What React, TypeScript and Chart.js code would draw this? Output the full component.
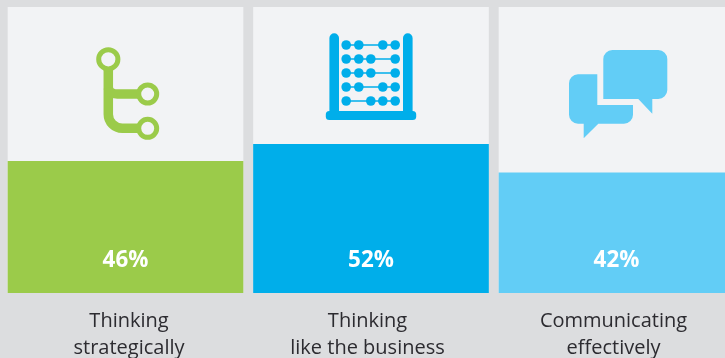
import React, { useEffect, useRef } from "react";
import { Chart, registerables } from "chart.js";

Chart.register(...registerables);

const categories = [["Thinking", "strategically"], ["Thinking", "like the business"], ["Communicating", "effectively"]];
const shares = [46, 52, 42];
const fullScale = [100, 100, 100];
const barColors = ["#9bcb4a", "#00aeea", "#62cdf6"];
const labelNudge = [3.5, -3.5, -3];
const panelColor = "#f2f3f5";
const pageColor = "#dcdddf";
const textColor = "#2c2b30";

const abacusRows = [
  [-24.8, -12.2, 11.8, 24.2],
  [-24.8, -12.2, -0.2, 24.2],
  [-24.8, -12.2, -0.2, 24.2],
  [-24.8, -12.2, 11.8, 24.2],
  [-24.8, -0.2, 11.8, 24.2],
];
const abacusRowY = [45, 59, 73, 87, 101];

function drawTree(ctx: CanvasRenderingContext2D, cx: number, color: string) {
  ctx.strokeStyle = color;
  ctx.lineCap = "butt";
  ctx.lineWidth = 9.5;
  const trunk = cx - 17.2;
  const tip = cx + 22.2;
  ctx.beginPath();
  ctx.moveTo(trunk, 68);
  ctx.lineTo(trunk, 114);
  ctx.arcTo(trunk, 128.3, trunk + 14, 128.3, 14);
  ctx.lineTo(tip - 6, 128.3);
  ctx.stroke();
  ctx.beginPath();
  ctx.moveTo(trunk, 88);
  ctx.quadraticCurveTo(trunk + 1, 94, trunk + 9, 94);
  ctx.lineTo(tip - 6, 94);
  ctx.stroke();
  ctx.lineWidth = 5;
  ([[trunk, 59.3, 9.6], [tip, 94, 9], [tip, 128.3, 9]] as number[][]).forEach(([x, y, r]) => {
    ctx.beginPath();
    ctx.arc(x, y, r, 0, Math.PI * 2);
    ctx.fillStyle = panelColor;
    ctx.fill();
    ctx.stroke();
  });
}

function drawAbacus(ctx: CanvasRenderingContext2D, cx: number, color: string) {
  ctx.fillStyle = color;
  ctx.strokeStyle = color;
  [-36.8, 36.8].forEach((dx) => {
    ctx.beginPath();
    ctx.roundRect(cx + dx - 4.8, 33.3, 9.6, 82, [4.8, 4.8, 0, 0]);
    ctx.fill();
  });
  ctx.beginPath();
  ctx.roundRect(cx - 45.2, 111, 90.4, 9, 3.5);
  ctx.fill();
  abacusRows.forEach((beads, i) => {
    const y = abacusRowY[i];
    ctx.lineWidth = 1.4;
    ctx.beginPath();
    ctx.moveTo(cx + beads[0], y);
    ctx.lineTo(cx + beads[3], y);
    ctx.stroke();
    beads.forEach((dx) => {
      ctx.beginPath();
      ctx.arc(cx + dx, y, 4.8, 0, Math.PI * 2);
      ctx.fill();
    });
  });
}

function drawBubbles(ctx: CanvasRenderingContext2D, cx: number, color: string) {
  ctx.fillStyle = color;
  const x = (v: number) => cx + v;
  const r = 9;
  ctx.beginPath();
  ctx.moveTo(x(-13.2), 99);
  ctx.lineTo(x(-13.2), 50 + r);
  ctx.arcTo(x(-13.2), 50, x(-13.2) + r, 50, r);
  ctx.lineTo(x(50.8) - r, 50);
  ctx.arcTo(x(50.8), 50, x(50.8), 50 + r, r);
  ctx.lineTo(x(50.8), 99 - r);
  ctx.arcTo(x(50.8), 99, x(50.8) - r, 99, r);
  ctx.lineTo(x(35.8), 99);
  ctx.lineTo(x(35.8), 113.7);
  ctx.lineTo(x(21.8), 99);
  ctx.closePath();
  ctx.fill();

  ctx.beginPath();
  ctx.moveTo(x(-19.2), 74.3);
  ctx.lineTo(x(-19.2), 105);
  ctx.lineTo(x(16.5), 105);
  ctx.lineTo(x(16.5), 123.7 - r);
  ctx.arcTo(x(16.5), 123.7, x(16.5) - r, 123.7, r);
  ctx.lineTo(x(-18.2), 123.7);
  ctx.lineTo(x(-32.8), 138.3);
  ctx.lineTo(x(-32.8), 123.7);
  ctx.lineTo(x(-47.5) + r, 123.7);
  ctx.arcTo(x(-47.5), 123.7, x(-47.5), 123.7 - r, r);
  ctx.lineTo(x(-47.5), 74.3 + r);
  ctx.arcTo(x(-47.5), 74.3, x(-47.5) + r, 74.3, r);
  ctx.closePath();
  ctx.fill();
}

const iconPainters = [drawTree, drawAbacus, drawBubbles];

// Percentage captions, pictograms and the two-line category names under each panel.
const decorations = {
  id: "decorations",
  afterDatasetsDraw(chart: Chart) {
    const { ctx, scales } = chart;
    ctx.save();
    ctx.textAlign = "center";
    ctx.textBaseline = "alphabetic";
    shares.forEach((value, i) => {
      const cx = scales.x.getPixelForValue(i);
      iconPainters[i](ctx, cx, barColors[i]);
      ctx.fillStyle = "#ffffff";
      ctx.font = "bold 22.4px 'Open Sans'";
      ctx.fillText(`${value}%`, cx, 267);
      ctx.fillStyle = textColor;
      ctx.font = "20px 'Open Sans'";
      categories[i].forEach((line, row) => {
        ctx.fillText(line, cx + labelNudge[i], 327 + row * 27);
      });
    });
    ctx.restore();
  },
};

export default function App() {
  const canvasRef = useRef<HTMLCanvasElement>(null);

  useEffect(() => {
    document.body.style.margin = "0";
    document.body.style.background = pageColor;
    const chart = new Chart(canvasRef.current!, {
      type: "bar",
      data: {
        labels: categories as unknown as string[],
        datasets: [
          { data: shares, backgroundColor: barColors, grouped: false, order: 1, barThickness: 235 } as any,
          { data: fullScale, backgroundColor: panelColor, grouped: false, order: 2, barThickness: 235 } as any,
        ],
      },
      options: {
        responsive: false,
        animation: false,
        layout: { padding: { left: 2.75, right: 5.75, top: 7, bottom: 0 } },
        plugins: { legend: { display: false }, tooltip: { enabled: false } },
        scales: {
          y: { display: false, min: 0, max: 100 },
          x: {
            border: { display: false },
            grid: { display: false },
            ticks: { display: false },
            afterFit: (scale: any) => { scale.height = 65; },
          },
        },
      },
      plugins: [decorations],
    });
    return () => chart.destroy();
  }, []);

  return (
    <div style={{ position: "fixed", left: 0, top: 0, width: 725, height: 358, overflow: "hidden", background: pageColor }}>
      <canvas ref={canvasRef} width={745} height={358} style={{ display: "block" }} />
    </div>
  );
}
